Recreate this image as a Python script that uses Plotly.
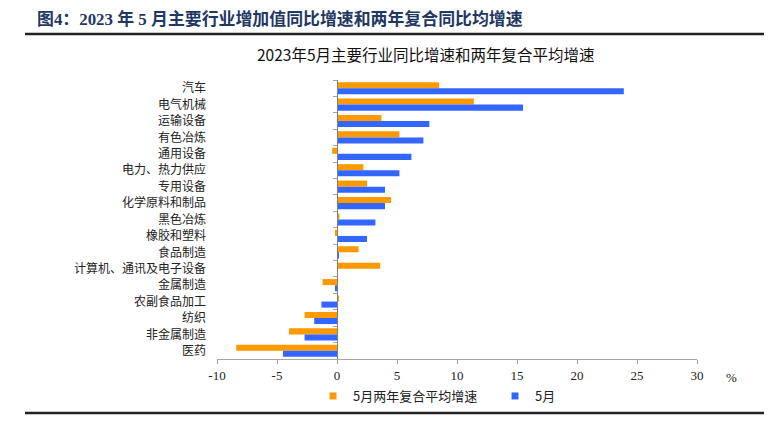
import plotly.graph_objects as go

categories = ["汽车", "电气机械", "运输设备", "有色冶炼", "通用设备", "电力、热力供应",
              "专用设备", "化学原料和制品", "黑色冶炼", "橡胶和塑料", "食品制造",
              "计算机、通讯及电子设备", "金属制造", "农副食品加工", "纺织", "非金属制造", "医药"]
two_year_avg = [8.5, 11.4, 3.7, 5.2, -0.4, 2.2, 2.5, 4.5, 0.2, -0.1, 1.8, 3.6, -1.2, 0.1, -2.7, -4.0, -8.4]
may = [23.9, 15.5, 7.7, 7.2, 6.2, 5.2, 4.0, 4.0, 3.2, 2.5, 0.1, 0.0, -0.1, -1.3, -1.9, -2.7, -4.5]
x_ticks = [-10, -5, 0, 5, 10, 15, 20, 25, 30]
series_names = ["5月两年复合平均增速", "5月"]
colors = ["#FF9900", "#3366FF"]

OFF = 8  # page body margin
W, H = 776 - OFF, 425 - OFF
L, R, T, B = 217, 697, 80, 359  # plot area in page pixels


def px(x):
    return (x - L) / (R - L)


def py(y):
    return (B - y) / (B - T)


fig = go.Figure()
for name, vals, c in zip(series_names, [two_year_avg, may], colors):
    fig.add_trace(go.Bar(y=categories, x=vals, orientation="h", name=name,
                         marker=dict(color=c, line=dict(width=0)), showlegend=False))
# legend-only entries with small square markers, attached to the tick axis at x=0
for name, c in zip(series_names, colors):
    fig.add_trace(go.Scatter(x=[None], y=[None], mode="markers", name=name,
                             marker=dict(symbol="square", size=7, color=c), yaxis="y2"))

serif = "Liberation Serif, Noto Sans CJK SC"
cjk = "Noto Sans CJK SC"
n = len(categories)
y_range = [n - 0.5, -0.5]

fig.update_layout(
    width=W, height=H,
    margin=dict(l=L - OFF, r=W - (R - OFF), t=T - OFF, b=H - (B - OFF), pad=0, autoexpand=False),
    paper_bgcolor="white", plot_bgcolor="white",
    barmode="group", bargap=0.26, bargroupgap=0.0,
    xaxis=dict(range=[-10, 30], tickvals=x_ticks, ticktext=[str(v) for v in x_ticks],
               showgrid=False, zeroline=False, showline=True, linecolor="#A6A6A6", linewidth=1,
               ticks="outside", ticklen=4, tickcolor="#A6A6A6", automargin=False,
               tickfont=dict(family=serif, size=13, color="#222222")),
    yaxis=dict(type="category", categoryarray=categories, range=y_range, autorange=False,
               tickmode="array", tickvals=categories, automargin=False,
               showgrid=False, zeroline=False, showline=False, ticks="",
               tickfont=dict(family=cjk, size=12, color="#222222"), ticklabelstandoff=10),
    yaxis2=dict(type="category", categoryarray=categories, overlaying="y",
                range=y_range, autorange=False,
                anchor="free", position=(0 - (-10)) / 40, side="left", automargin=False,
                tickmode="array", tickvals=categories,
                showgrid=False, zeroline=False, showline=True, linecolor="#7F7F7F", linewidth=1,
                ticks="outside", ticklen=4, tickcolor="#A6A6A6", tickson="boundaries",
                showticklabels=False),
    legend=dict(orientation="h", x=px(313), y=py(396), xanchor="left", yanchor="middle",
                font=dict(family=cjk, size=13, color="#222222"), itemwidth=30,
                entrywidth=137, entrywidthmode="pixels", bgcolor="rgba(0,0,0,0)"),
    showlegend=True,
)

fig.add_annotation(text="<b>图4：2023 年 5 月主要行业增加值同比增速和两年复合同比均增速</b>",
                   xref="paper", yref="paper", x=px(35), y=py(19), xanchor="left", yanchor="middle",
                   showarrow=False, font=dict(family=serif, size=16.9, color="#1F3864"))
fig.add_annotation(text="2023年5月主要行业同比增速和两年复合平均增速",
                   xref="paper", yref="paper", x=px(426), y=py(54), xanchor="center", yanchor="middle",
                   showarrow=False, font=dict(family=cjk, size=15.5, color="#111111"))
fig.add_annotation(text="%", xref="paper", yref="paper", x=px(731), y=py(377),
                   xanchor="center", yanchor="middle", showarrow=False,
                   font=dict(family=serif, size=13, color="#222222"))
fig.add_shape(type="line", xref="paper", yref="paper", x0=px(25), x1=px(764), y0=py(34), y1=py(34),
              line=dict(color="#222222", width=2.5))
fig.add_shape(type="line", xref="paper", yref="paper", x0=px(25), x1=px(764), y0=py(413), y1=py(413),
              line=dict(color="#222222", width=2.5))

fig.write_html("out.html")
